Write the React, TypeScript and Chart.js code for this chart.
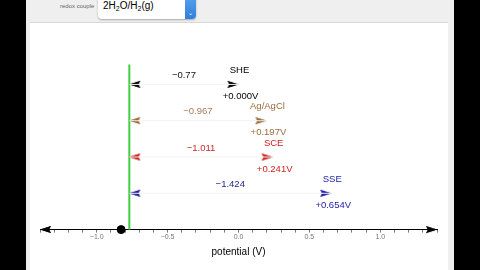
import React, { useEffect, useRef } from "react";
import { Chart, registerables } from "chart.js";

Chart.register(...registerables);

// ---- data ----
const electrodes = ["SHE", "Ag/AgCl", "SCE", "SSE"];
const potentials = [0.0, 0.197, 0.241, 0.654];
const diffLabels = ["\u22120.77", "\u22120.967", "\u22121.011", "\u22121.424"];
const rows = [4, 3, 2, 1];
const colors = ["#000000", "#9c6b3c", "#cc1f1f", "#1c1ca6"];
const diffColors = ["#111111", "#a87d55", "#c82a2a", "#25258f"];
const couplePotential = -0.77; // green line
const standardPotential = -0.828; // black dot
const axisMin = -1.4;
const axisMax = 1.4;
const tickStep = 0.1;
const greenTop = 4.55;

function makeArrow(color: string): HTMLCanvasElement {
  const c = document.createElement("canvas");
  c.width = 24;
  c.height = 9;
  const ctx = c.getContext("2d")!;
  ctx.fillStyle = color;
  ctx.beginPath();
  ctx.moveTo(12, 4.5);
  ctx.lineTo(1, 1);
  ctx.lineTo(3, 4.5);
  ctx.lineTo(1, 8);
  ctx.closePath();
  ctx.fill();
  ctx.fill();
  return c;
}

const FONT = "'Liberation Sans', Arial, Helvetica, sans-serif";

const labelPlugin = {
  id: "electrodeLabels",
  afterDatasetsDraw(chart: any) {
    const { ctx, scales } = chart;
    const xs = scales.x;
    const ys = scales.y;
    ctx.save();
    ctx.font = `9.5px ${FONT}`;
    ctx.textAlign = "center";
    ctx.textBaseline = "middle";
    electrodes.forEach((name, i) => {
      const xt = xs.getPixelForValue(potentials[i]);
      const yr = ys.getPixelForValue(rows[i]);
      const xm = xs.getPixelForValue((couplePotential + potentials[i]) / 2);
      ctx.fillStyle = colors[i];
      ctx.fillText(name, xt + 1, yr - 14);
      ctx.fillText("+" + potentials[i].toFixed(3) + "V", xt + 2, yr + 12);
      ctx.fillStyle = diffColors[i];
      ctx.fillText(diffLabels[i], xm, yr - 9);
    });
    ctx.restore();
  },
};

function ChartView() {
  const ref = useRef<HTMLCanvasElement | null>(null);
  useEffect(() => {
    if (!ref.current) return;
    const datasets: any[] = [];
    electrodes.forEach((name, i) => {
      datasets.push({
        type: "line",
        label: name + " span",
        data: [
          { x: couplePotential, y: rows[i] },
          { x: potentials[i], y: rows[i] },
        ],
        borderColor: "#f2f2f2",
        borderWidth: 1,
        pointRadius: 0,
      });
      const arrow = makeArrow(colors[i]);
      datasets.push({
        type: "scatter",
        label: name + " heads",
        data: [
          { x: couplePotential, y: rows[i] },
          { x: potentials[i], y: rows[i] },
        ],
        pointStyle: arrow,
        pointRotation: [180, 0],
        pointRadius: 5,
        clip: false,
      });
    });
    datasets.push({
      type: "line",
      label: "couple",
      data: [
        { x: couplePotential, y: 0 },
        { x: couplePotential, y: greenTop },
      ],
      borderColor: "#3fcf3f",
      borderWidth: 2,
      pointRadius: 0,
      clip: false,
    });
    const axArrow = makeArrow("#000000");
    datasets.push({
      type: "scatter",
      label: "axis heads",
      data: [
        { x: axisMin, y: 0 },
        { x: axisMax, y: 0 },
      ],
      pointStyle: axArrow,
      pointRotation: [180, 0],
      pointRadius: 5,
      clip: false,
    });
    datasets.push({
      type: "scatter",
      label: "E0",
      data: [{ x: standardPotential, y: 0 }],
      pointStyle: "circle",
      pointRadius: 4,
      backgroundColor: "#000000",
      borderColor: "#000000",
      clip: false,
    });

    const chart = new Chart(ref.current, {
      type: "scatter",
      data: { datasets },
      plugins: [labelPlugin],
      options: {
        animation: false,
        responsive: false,
        maintainAspectRatio: false,
        events: [],
        layout: { padding: { left: 10, right: 11, top: 7, bottom: 12 } },
        plugins: { legend: { display: false }, tooltip: { enabled: false } },
        scales: {
          x: {
            type: "linear",
            min: axisMin,
            max: axisMax,
            position: "bottom",
            border: { display: true, color: "#000000", width: 1 },
            grid: {
              display: true,
              drawOnChartArea: false,
              drawTicks: true,
              tickLength: 3,
              tickColor: "#777777",
            },
            ticks: {
              stepSize: tickStep,
              autoSkip: false,
              maxRotation: 0,
              padding: 0,
              color: "#777777",
              font: { size: 7, family: FONT },
              callback: (v: any) => {
                const n = Number(v);
                const r = Math.round(n * 10);
                if (r % 5 !== 0) return "";
                const s = (Math.abs(r) / 10).toFixed(1);
                return r < 0 ? "\u2212" + s : s;
              },
            },
            title: {
              display: true,
              text: "potential (V)",
              color: "#000000",
              font: { size: 10, family: FONT },
              padding: { top: 5, bottom: 0 },
            },
          },
          y: { type: "linear", min: 0, max: 5.5, display: false },
        },
      },
    });
    return () => chart.destroy();
  }, []);
  return <canvas ref={ref} width={418} height={247} style={{ display: "block" }} />;
}

export default function App() {
  return (
    <div
      style={{
        position: "absolute",
        left: 0,
        top: 0,
        width: 480,
        height: 270,
        background: "#000000",
        overflow: "hidden",
        fontFamily: FONT,
      }}
    >
      <div style={{ position: "absolute", left: 26, top: 0, width: 428, height: 270, background: "#efefef" }} />
      <div style={{ position: "absolute", left: 60, top: 1, fontSize: 6, color: "#666", lineHeight: "10px" }}>
        redox couple
      </div>
      <div
        style={{
          position: "absolute",
          left: 98,
          top: -4,
          width: 98,
          height: 23,
          background: "#ffffff",
          borderRadius: 4,
          boxShadow: "0 1px 2px rgba(0,0,0,0.3)",
          overflow: "hidden",
        }}
      >
        <div style={{ position: "absolute", left: 5, top: 4, fontSize: 10, color: "#000", lineHeight: "12px" }}>
          2H<sub style={{ fontSize: 7, verticalAlign: "-2px" }}>2</sub>O/H
          <sub style={{ fontSize: 7, verticalAlign: "-2px" }}>2</sub>(g)
        </div>
        <div
          style={{
            position: "absolute",
            right: 0,
            top: 0,
            width: 11,
            height: 23,
            background: "linear-gradient(#5aa0ec, #2f80dc)",
          }}
        >
          <div style={{ position: "absolute", left: 3, top: 14, fontSize: 6, color: "#fff", lineHeight: "6px" }}>⌄</div>
        </div>
      </div>
      <div
        style={{
          position: "absolute",
          left: 30,
          top: 22,
          width: 418,
          height: 250,
          background: "#ffffff",
          borderTop: "1px solid #d8d8d8",
          boxSizing: "border-box",
        }}
      >
        <ChartView />
      </div>
    </div>
  );
}
